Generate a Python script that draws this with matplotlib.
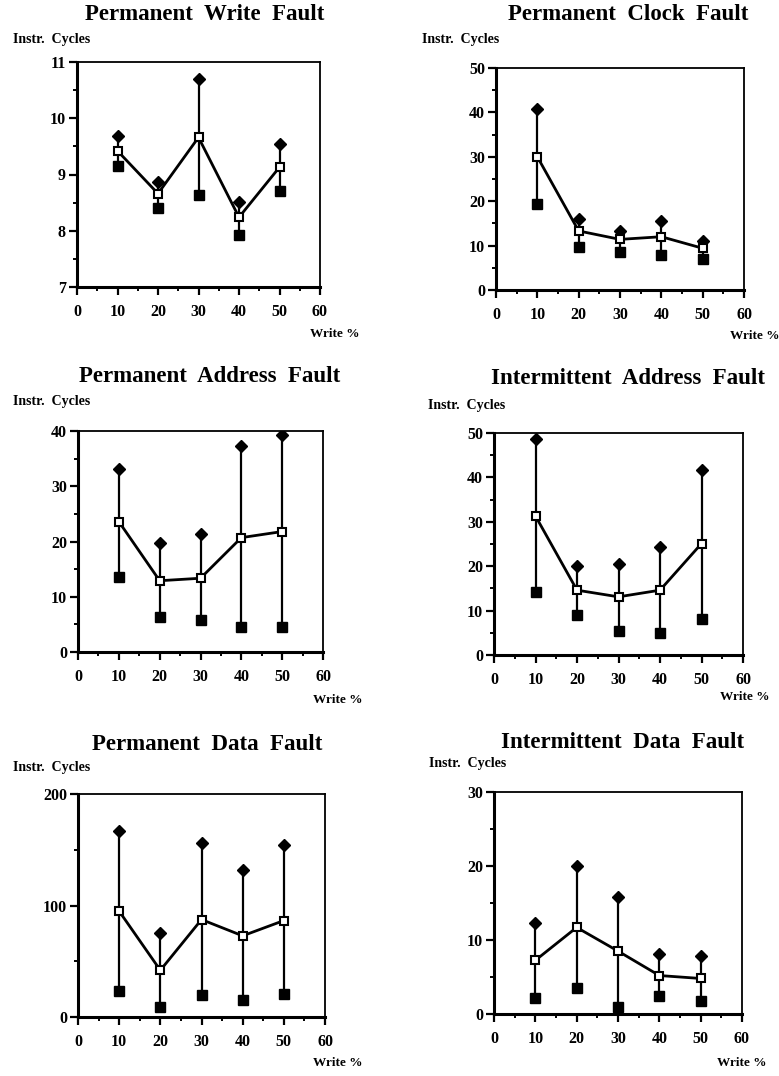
import numpy as np
import matplotlib
matplotlib.use('Agg')
import matplotlib.pyplot as plt
from matplotlib.ticker import MultipleLocator

plt.rcParams['font.family'] = ['Liberation Serif', 'DejaVu Serif']

W, H = 779, 1076

# Dades llegides de la figura
write_pct = [10, 20, 30, 40, 50]

titols = ['Permanent  Write  Fault', 'Permanent  Clock  Fault',
          'Permanent  Address  Fault', 'Intermittent  Address  Fault',
          'Permanent  Data  Fault', 'Intermittent  Data  Fault']

write_max  = [9.68, 8.87, 10.70, 8.52, 9.54]
write_mean = [9.42, 8.66, 9.66, 8.24, 9.13]
write_min  = [9.16, 8.41, 8.63, 7.93, 8.71]

clock_max  = [40.8, 16.0, 13.3, 15.6, 11.1]
clock_mean = [30.0, 13.3, 11.4, 12.0, 9.4]
clock_min  = [19.3, 9.7, 8.6, 7.8, 6.9]

paddr_max  = [33.2, 19.7, 21.3, 37.3, 39.2]
paddr_mean = [23.6, 12.9, 13.35, 20.7, 21.8]
paddr_min  = [13.5, 6.3, 5.8, 4.5, 4.6]

iaddr_max  = [48.7, 20.1, 20.5, 24.4, 41.6]
iaddr_mean = [31.3, 14.6, 13.1, 14.6, 25.1]
iaddr_min  = [14.2, 9.0, 5.4, 5.0, 8.2]

pdata_max  = [166.8, 75.7, 156.3, 131.4, 153.9]
pdata_mean = [94.9, 41.9, 87.4, 72.8, 86.5]
pdata_min  = [23.0, 9.0, 19.5, 15.6, 20.4]

idata_max  = [12.3, 19.95, 15.8, 8.15, 7.9]
idata_mean = [7.25, 11.7, 8.5, 5.2, 4.8]
idata_min  = [2.2, 3.5, 0.9, 2.4, 1.7]

series = [(write_max, write_mean, write_min), (clock_max, clock_mean, clock_min),
          (paddr_max, paddr_mean, paddr_min), (iaddr_max, iaddr_mean, iaddr_min),
          (pdata_max, pdata_mean, pdata_min), (idata_max, idata_mean, idata_min)]

# Eixos Y: (min, max, pas major, pas menor)
eixos_y = [(7, 11, 1, 0.5), (0, 50, 10, 5), (0, 40, 10, 5),
           (0, 50, 10, 5), (0, 200, 100, 50), (0, 30, 10, 5)]

# Caixes dels eixos en pixels: esquerra, dreta, dalt, baix
caixes = [(77, 320, 62, 287), (496, 744, 68, 290),
          (78, 323, 431, 652), (494, 743, 433, 655),
          (78, 325, 794, 1017), (494, 742, 792, 1014)]
pos_titol = [(205, 15), (628, 15), (210, 377), (628, 378), (207, 744), (623, 743)]
pos_instr = [(13, 39), (422, 39), (13, 402), (428, 405), (13, 767), (429, 763)]
pos_write = [(310, 334), (730, 336), (313, 700), (720, 697), (313, 1063), (717, 1063)]

fig = plt.figure(figsize=(W/100, H/100), dpi=100)

for k in range(6):
	l, r, t, b = caixes[k]
	ax = fig.add_axes([l/W, 1-b/H, (r-l)/W, (b-t)/H])
	vmax, vmean, vmin = series[k]
	# barres verticals entre minim i maxim
	ax.vlines(write_pct, vmin, vmax, color='black', lw=1.6, zorder=2)
	ax.plot(write_pct, vmean, color='black', lw=2.0, zorder=3)
	ax.plot(write_pct, vmax, 'D', color='black', ms=6.5, ls='none', zorder=4)
	ax.plot(write_pct, vmin, 's', color='black', ms=6.5, ls='none', zorder=4)
	ax.plot(write_pct, vmean, 's', mfc='white', mec='black', mew=1.5, ms=5.5, ls='none', zorder=5)
	y0, y1, maj, mnr = eixos_y[k]
	ax.set_xlim(0, 60)
	ax.set_ylim(y0, y1)
	ax.xaxis.set_major_locator(MultipleLocator(10))
	ax.xaxis.set_minor_locator(MultipleLocator(5))
	ax.yaxis.set_major_locator(MultipleLocator(maj))
	ax.yaxis.set_minor_locator(MultipleLocator(mnr))
	ax.tick_params(which='major', direction='out', length=6, width=1.6, labelsize=11.5, pad=6)
	ax.tick_params(which='minor', direction='out', length=3, width=1.4)
	ax.tick_params(axis='y', pad=2)
	for lab in ax.get_xticklabels() + ax.get_yticklabels():
		lab.set_fontweight('bold')
	for s in ['left', 'bottom']:
		ax.spines[s].set_linewidth(2.2)
	for s in ['right', 'top']:
		ax.spines[s].set_linewidth(1.3)
	x, y = pos_titol[k]
	fig.text(x/W, 1-y/H, titols[k], ha='center', va='center', fontsize=16.5, fontweight='bold')
	x, y = pos_instr[k]
	fig.text(x/W, 1-y/H, 'Instr.  Cycles', ha='left', va='center', fontsize=10, fontweight='bold')
	x, y = pos_write[k]
	fig.text(x/W, 1-y/H, 'Write %', ha='left', va='center', fontsize=9.5, fontweight='bold')

plt.savefig('out.png', dpi=100)
plt.close()
